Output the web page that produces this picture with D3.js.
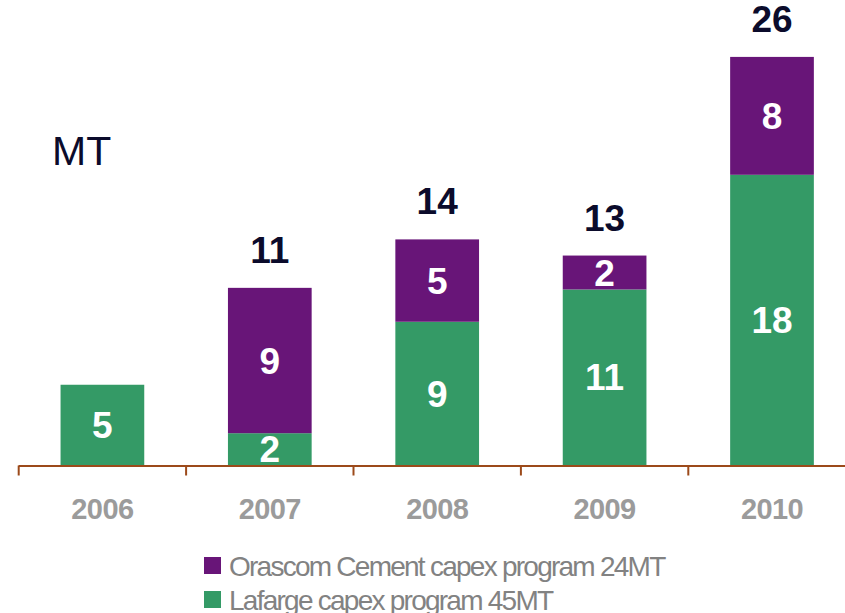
<!DOCTYPE html>
<html>
<head>
<meta charset="utf-8">
<script src="https://cdn.jsdelivr.net/npm/d3@7"></script>
<style>
  body { margin: 0; background: #fff; }
  svg { display: block; font-family: Arial, "Liberation Sans", sans-serif; }
</style>
</head>
<body>
<div id="chart"></div>
<script>
// data
var years = ["2006", "2007", "2008", "2009", "2010"];
var lafarge = [5, 2, 8.9, 10.9, 18];       // green, bottom
var orascom = [0, 9, 5.1, 2.1, 7.3];        // purple, top
var lafargeLabels = ["5", "2", "9", "11", "18"];
var orascomLabels = ["", "9", "5", "2", "8"];
var totalLabels = ["", "11", "14", "13", "26"];
var legendNames = ["Orascom Cement capex program 24MT", "Lafarge capex program 45MT"];

var width = 845, height = 613;
var green = "#349a66", purple = "#681578", axisColor = "#9c4a1a", navy = "#0b0b2b";

var svg = d3.select("#chart").append("svg")
    .attr("width", width)
    .attr("height", height);

var x = d3.scaleBand()
    .domain(years)
    .range([18.7, 855.7])
    .paddingInner(0.5)
    .paddingOuter(0.25);

var y = d3.scaleLinear()
    .domain([0, 28])
    .range([465.5, 465.5 - 28 * 16.15]);

var rows = years.map(function(d, i){
  return {year: d, g: lafarge[i], p: orascom[i], gl: lafargeLabels[i], pl: orascomLabels[i], tl: totalLabels[i]};
});

// bars
var bar = svg.append("g").selectAll("g").data(rows).enter().append("g");

bar.append("rect")
    .attr("x", function(d){ return x(d.year); })
    .attr("width", x.bandwidth())
    .attr("y", function(d){ return y(d.g); })
    .attr("height", function(d){ return y(0) - y(d.g); })
    .attr("fill", green);

bar.filter(function(d){ return d.p > 0; }).append("rect")
    .attr("x", function(d){ return x(d.year); })
    .attr("width", x.bandwidth())
    .attr("y", function(d){ return y(d.g + d.p); })
    .attr("height", function(d){ return y(d.g) - y(d.g + d.p); })
    .attr("fill", purple);

var cx = function(d){ return x(d.year) + x.bandwidth() / 2; };

bar.append("text")
    .attr("x", cx)
    .attr("y", function(d){ return (y(0) + y(d.g)) / 2 + 13; })
    .attr("text-anchor", "middle")
    .attr("fill", "#fff")
    .attr("font-weight", "bold")
    .attr("font-size", 37)
    .text(function(d){ return d.gl; });

bar.append("text")
    .attr("x", cx)
    .attr("y", function(d){ return (y(d.g) + y(d.g + d.p)) / 2 + 13; })
    .attr("text-anchor", "middle")
    .attr("fill", "#fff")
    .attr("font-weight", "bold")
    .attr("font-size", 37)
    .text(function(d){ return d.pl; });

bar.append("text")
    .attr("x", cx)
    .attr("y", function(d){ return y(d.g + d.p) - 25; })
    .attr("text-anchor", "middle")
    .attr("fill", navy)
    .attr("font-weight", "bold")
    .attr("font-size", 37)
    .text(function(d){ return d.tl; });

// axis line with ticks at band boundaries
var half = (x.step() - x.bandwidth()) / 2;
var bounds = years.map(function(d){ return x(d) - half; });
bounds.push(x(years[years.length - 1]) + x.bandwidth() + half);

var axis = svg.append("g");
axis.append("line")
    .attr("x1", bounds[0]).attr("x2", bounds[bounds.length - 1])
    .attr("y1", y(0) + 0.5).attr("y2", y(0) + 0.5)
    .attr("stroke", axisColor).attr("stroke-width", 2);
axis.selectAll(".tick").data(bounds).enter().append("line")
    .attr("class", "tick")
    .attr("x1", function(d){ return d; }).attr("x2", function(d){ return d; })
    .attr("y1", y(0)).attr("y2", y(0) + 10)
    .attr("stroke", axisColor).attr("stroke-width", 2);

axis.selectAll(".yr").data(years).enter().append("text")
    .attr("class", "yr")
    .attr("x", function(d){ return x(d) + x.bandwidth() / 2; })
    .attr("y", 519)
    .attr("text-anchor", "middle")
    .attr("fill", "#9b9b9b")
    .attr("font-weight", "bold")
    .attr("font-size", 29)
    .attr("letter-spacing", -0.6)
    .text(function(d){ return d; });

// unit label
svg.append("text")
    .attr("x", 52)
    .attr("y", 165)
    .attr("fill", navy)
    .attr("font-size", 41)
    .text("MT");

// legend
var legend = svg.append("g").selectAll("g").data(legendNames).enter().append("g")
    .attr("transform", function(d, i){ return "translate(204," + (557 + i * 34) + ")"; });
legend.append("rect")
    .attr("width", 17).attr("height", 17)
    .attr("fill", function(d, i){ return i == 0 ? purple : green; });
legend.append("text")
    .attr("x", 25)
    .attr("y", 18.5)
    .attr("fill", "#828282")
    .attr("font-size", 28)
    .attr("letter-spacing", -1.75)
    .text(function(d){ return d; });
</script>
</body>
</html>
